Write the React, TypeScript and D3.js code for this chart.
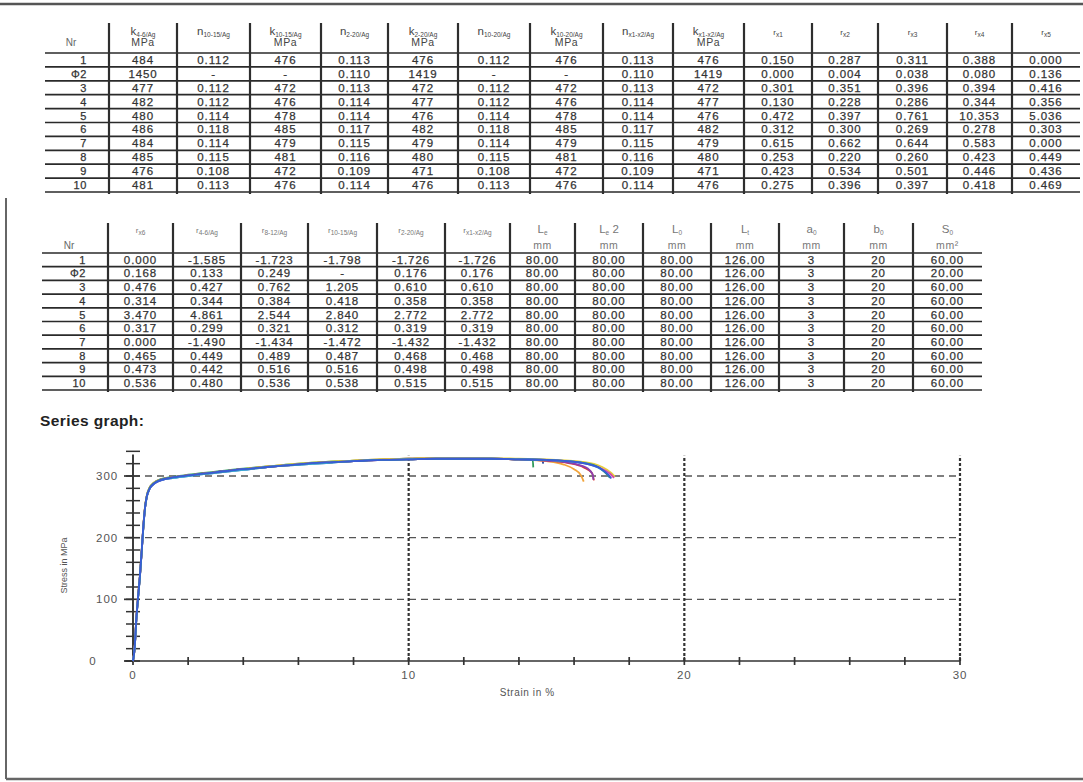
import React from 'react'
import * as d3 from 'd3'

// ---- table data ----
const nr = ['1', 'Φ2', '3', '4', '5', '6', '7', '8', '9', '10']

const k46 = ['484', '1450', '477', '482', '480', '486', '484', '485', '476', '481']
const n1015 = ['0.112', '-', '0.112', '0.112', '0.114', '0.118', '0.114', '0.115', '0.108', '0.113']
const k1015 = ['476', '-', '472', '476', '478', '485', '479', '481', '472', '476']
const n220 = ['0.113', '0.110', '0.113', '0.114', '0.114', '0.117', '0.115', '0.116', '0.109', '0.114']
const k220 = ['476', '1419', '472', '477', '476', '482', '479', '480', '471', '476']
const n1020 = ['0.112', '-', '0.112', '0.112', '0.114', '0.118', '0.114', '0.115', '0.108', '0.113']
const k1020 = ['476', '-', '472', '476', '478', '485', '479', '481', '472', '476']
const nx1x2 = ['0.113', '0.110', '0.113', '0.114', '0.114', '0.117', '0.115', '0.116', '0.109', '0.114']
const kx1x2 = ['476', '1419', '472', '477', '476', '482', '479', '480', '471', '476']
const rx1 = ['0.150', '0.000', '0.301', '0.130', '0.472', '0.312', '0.615', '0.253', '0.423', '0.275']
const rx2 = ['0.287', '0.004', '0.351', '0.228', '0.397', '0.300', '0.662', '0.220', '0.534', '0.396']
const rx3 = ['0.311', '0.038', '0.396', '0.286', '0.761', '0.269', '0.644', '0.260', '0.501', '0.397']
const rx4 = ['0.388', '0.080', '0.394', '0.344', '10.353', '0.278', '0.583', '0.423', '0.446', '0.418']
const rx5 = ['0.000', '0.136', '0.416', '0.356', '5.036', '0.303', '0.000', '0.449', '0.436', '0.469']

const rx6 = ['0.000', '0.168', '0.476', '0.314', '3.470', '0.317', '0.000', '0.465', '0.473', '0.536']
const r46 = ['-1.585', '0.133', '0.427', '0.344', '4.861', '0.299', '-1.490', '0.449', '0.442', '0.480']
const r812 = ['-1.723', '0.249', '0.762', '0.384', '2.544', '0.321', '-1.434', '0.489', '0.516', '0.536']
const r1015 = ['-1.798', '-', '1.205', '0.418', '2.840', '0.312', '-1.472', '0.487', '0.516', '0.538']
const r220 = ['-1.726', '0.176', '0.610', '0.358', '2.772', '0.319', '-1.432', '0.468', '0.498', '0.515']
const rx1x2 = ['-1.726', '0.176', '0.610', '0.358', '2.772', '0.319', '-1.432', '0.468', '0.498', '0.515']
const le = ['80.00', '80.00', '80.00', '80.00', '80.00', '80.00', '80.00', '80.00', '80.00', '80.00']
const le2 = ['80.00', '80.00', '80.00', '80.00', '80.00', '80.00', '80.00', '80.00', '80.00', '80.00']
const l0 = ['80.00', '80.00', '80.00', '80.00', '80.00', '80.00', '80.00', '80.00', '80.00', '80.00']
const lt = ['126.00', '126.00', '126.00', '126.00', '126.00', '126.00', '126.00', '126.00', '126.00', '126.00']
const a0 = ['3', '3', '3', '3', '3', '3', '3', '3', '3', '3']
const b0 = ['20', '20', '20', '20', '20', '20', '20', '20', '20', '20']
const s0 = ['60.00', '20.00', '60.00', '60.00', '60.00', '60.00', '60.00', '60.00', '60.00', '60.00']

// header: [symbol, subscript, unit, suffix]
const headers1 = [
  ['k', '4-6/Ag', 'MPa', ''], ['n', '10-15/Ag', '', ''], ['k', '10-15/Ag', 'MPa', ''],
  ['n', '2-20/Ag', '', ''], ['k', '2-20/Ag', 'MPa', ''], ['n', '10-20/Ag', '', ''],
  ['k', '10-20/Ag', 'MPa', ''], ['n', 'x1-x2/Ag', '', ''], ['k', 'x1-x2/Ag', 'MPa', ''],
  ['r', 'x1', '', ''], ['r', 'x2', '', ''], ['r', 'x3', '', ''], ['r', 'x4', '', ''], ['r', 'x5', '', ''],
]
const headers2 = [
  ['r', 'x6', '', ''], ['r', '4-6/Ag', '', ''], ['r', '8-12/Ag', '', ''], ['r', '10-15/Ag', '', ''],
  ['r', '2-20/Ag', '', ''], ['r', 'x1-x2/Ag', '', ''], ['L', 'e', 'mm', ''], ['L', 'e', 'mm', ' 2'],
  ['L', '0', 'mm', ''], ['L', 't', 'mm', ''], ['a', '0', 'mm', ''], ['b', '0', 'mm', ''], ['S', '0', 'mm²', ''],
]
const columns1 = [k46, n1015, k1015, n220, k220, n1020, k1020, nx1x2, kx1x2, rx1, rx2, rx3, rx4, rx5]
const columns2 = [rx6, r46, r812, r1015, r220, rx1x2, le, le2, l0, lt, a0, b0, s0]

// ---- stress-strain curves: [strain %, stress MPa] ----
const curveGreen = [[0, 0], [0.06, 21], [0.12, 66], [0.18, 101], [0.25, 137], [0.32, 181], [0.38, 221], [0.44, 251], [0.5, 268], [0.6, 281], [0.75, 289], [1, 295], [1.5, 299], [2, 302], [3, 307], [4, 312], [5, 316], [6, 320], [7, 323], [8, 325], [9, 327], [10, 328], [11, 329], [12, 329], [13, 328], [14, 327], [14.5, 326], [14.52, 314]]
const curveNavy = [[0, 0], [0.06, 20], [0.12, 67], [0.18, 100], [0.25, 136], [0.32, 180], [0.38, 219], [0.44, 249], [0.5, 266], [0.6, 279], [0.75, 287], [1, 293], [1.5, 297], [2, 300], [3, 305], [4, 310], [5, 315], [6, 318], [7, 321], [8, 324], [9, 326], [10, 327], [11, 328], [12, 328], [13, 328], [14, 327], [14.85, 326], [14.88, 320]]
const curveOrange = [[0, 0], [0.06, 22], [0.12, 69], [0.18, 103], [0.25, 138], [0.32, 182], [0.38, 222], [0.44, 251], [0.5, 267], [0.6, 280], [0.75, 288], [1, 294], [1.5, 298], [2, 301], [3, 306], [4, 311], [5, 316], [6, 319], [7, 322], [8, 325], [9, 327], [10, 328], [11, 329], [12, 329], [13, 328], [14, 327], [15, 324], [15.6, 319], [16, 311], [16.25, 301], [16.35, 291]]
const curveRed = [[0, 0], [0.06, 21], [0.12, 68], [0.18, 102], [0.25, 137], [0.32, 181], [0.38, 220], [0.44, 250], [0.5, 267], [0.6, 280], [0.75, 288], [1, 294], [1.5, 298], [2, 301], [3, 306], [4, 311], [5, 315], [6, 319], [7, 322], [8, 324], [9, 326], [10, 327], [11, 328], [12, 328], [13, 328], [14, 327], [15, 325], [15.8, 321], [16.35, 314], [16.65, 305], [16.72, 293]]
const curvePurple = [[0, 0], [0.06, 20], [0.12, 66], [0.18, 101], [0.25, 136], [0.32, 180], [0.38, 220], [0.44, 249], [0.5, 266], [0.6, 279], [0.75, 287], [1, 293], [1.5, 298], [2, 301], [3, 306], [4, 311], [5, 315], [6, 319], [7, 322], [8, 324], [9, 326], [10, 328], [11, 328], [12, 329], [13, 328], [14, 327], [15, 325], [16, 320], [16.5, 312], [16.68, 302], [16.7, 294]]
const curveYellow = [[0, 0], [0.06, 22], [0.12, 69], [0.18, 103], [0.25, 138], [0.32, 182], [0.38, 222], [0.44, 251], [0.5, 268], [0.6, 281], [0.75, 289], [1, 294], [1.5, 298], [2, 301], [3, 306], [4, 311], [5, 316], [6, 320], [7, 323], [8, 325], [9, 327], [10, 328], [11, 329], [12, 329], [13, 329], [14, 328], [15, 327], [16.3, 323], [17, 315], [17.35, 305], [17.48, 299]]
const curveMagenta = [[0, 0], [0.06, 21], [0.12, 67], [0.18, 102], [0.25, 137], [0.32, 181], [0.38, 221], [0.44, 250], [0.5, 267], [0.6, 280], [0.75, 288], [1, 294], [1.5, 298], [2, 301], [3, 306], [4, 311], [5, 315], [6, 319], [7, 322], [8, 324], [9, 326], [10, 327], [11, 328], [12, 328], [13, 328], [14, 327], [15, 326], [16.2, 322], [16.9, 314], [17.3, 304], [17.45, 297]]
const curveCyan = [[0, 0], [0.06, 20], [0.12, 66], [0.18, 100], [0.25, 136], [0.32, 180], [0.38, 219], [0.44, 249], [0.5, 266], [0.6, 279], [0.75, 287], [1, 293], [1.5, 297], [2, 300], [3, 305], [4, 310], [5, 315], [6, 318], [7, 321], [8, 324], [9, 326], [10, 327], [11, 328], [12, 328], [13, 328], [14, 327], [15, 326], [16.2, 322], [16.9, 313], [17.2, 303], [17.3, 298]]
const curveTeal = [[0, 0], [0.06, 21], [0.12, 67], [0.18, 101], [0.25, 137], [0.32, 181], [0.38, 220], [0.44, 250], [0.5, 267], [0.6, 280], [0.75, 288], [1, 294], [1.5, 298], [2, 301], [3, 306], [4, 311], [5, 315], [6, 319], [7, 322], [8, 324], [9, 326], [10, 327], [11, 328], [12, 328], [13, 328], [14, 327], [15, 326], [16.5, 320], [17.05, 309], [17.25, 300], [17.3, 297]]
const curveBlue = [[0, 0], [0.06, 22], [0.12, 68], [0.18, 102], [0.25, 138], [0.32, 182], [0.38, 222], [0.44, 250], [0.5, 267], [0.6, 279], [0.75, 287], [1, 293], [1.5, 298], [2, 301], [3, 306], [4, 311], [5, 315], [6, 319], [7, 322], [8, 324], [9, 326], [10, 327], [11, 328], [12, 328], [13, 328], [14, 327], [15, 326], [16, 323], [16.6, 318], [17, 311], [17.25, 302], [17.35, 296]]

const series = [
  { name: '8', color: '#2f9a5a', data: curveGreen },
  { name: '4', color: '#23409a', data: curveNavy },
  { name: '3', color: '#f2a43a', data: curveOrange },
  { name: '5', color: '#d83a3a', data: curveRed },
  { name: '6', color: '#8a3fb0', data: curvePurple },
  { name: '7', color: '#e6cf3a', data: curveYellow },
  { name: '9', color: '#d64aa8', data: curveMagenta },
  { name: '10', color: '#3cc0e8', data: curveCyan },
  { name: 'Φ2', color: '#2a8c8c', data: curveTeal },
  { name: '1', color: '#3b5bd6', data: curveBlue },
]

const xTicksMajor = [0, 10, 20, 30]
const yTicksMajor = [0, 100, 200, 300]

const FONT = 'Liberation Sans, Arial, sans-serif'
const INK = '#333'

const Table = ({ headers, columns, edges, headTop, headBottom, bottom, line1, line2, headColor, left }) => {
  const rows = d3.scaleBand().domain(nr).range([headBottom, bottom])
  const cols = d3.scaleOrdinal().domain(d3.range(edges.length)).range(edges)
  const right = edges[edges.length - 1]
  return (
    <g fontFamily={FONT} fill={INK}>
      {nr.map(n => (
        <line key={'h' + n} x1={left} x2={right} y1={rows(n) + rows.bandwidth()} y2={rows(n) + rows.bandwidth()} stroke="#2a2a2a" strokeWidth={1.7} />
      ))}
      <line x1={left} x2={right} y1={headBottom} y2={headBottom} stroke="#2a2a2a" strokeWidth={1.7} />
      {edges.slice(1, -1).map((e, i) => (
        <line key={'v' + i} x1={e} x2={e} y1={headTop} y2={bottom + 2} stroke="#2e2e2e" strokeWidth={2.2} />
      ))}
      <text x={(left + edges[1]) / 2 - 6} y={line2} fontSize={10} textAnchor="middle" fill="#666">Nr</text>
      {headers.map((h, i) => {
        const cx = (cols(i + 1) + cols(i + 2)) / 2
        return (
          <g key={'hd' + i} fill={headColor}>
            <text x={cx} y={line1} textAnchor="middle">
              <tspan fontSize={h[0] === 'r' ? 8 : 11.5}>{h[0]}</tspan>
              <tspan fontSize={6.5} dy={1.5}>{h[1]}</tspan>
              {h[3] ? <tspan fontSize={11.5} dy={-1.5}>{h[3]}</tspan> : null}
            </text>
            {h[2] ? <text x={cx} y={line2} textAnchor="middle" fontSize={10.5} letterSpacing={0.6}>{h[2]}</text> : null}
          </g>
        )
      })}
      {nr.map(n => (
        <text key={'n' + n} x={edges[1] - 22} y={rows(n) + rows.bandwidth() - 3} fontSize={11} textAnchor="end"
          letterSpacing={0.6} stroke={INK} strokeWidth={0.25}>{n}</text>
      ))}
      {columns.map((col, ci) => col.map((v, ri) => (
        <text key={ci + '-' + ri} x={(cols(ci + 1) + cols(ci + 2)) / 2} y={rows(nr[ri]) + rows.bandwidth() - 3}
          fontSize={11.5} textAnchor="middle" letterSpacing={0.9} stroke={INK} strokeWidth={0.25}>{v}</text>
      )))}
    </g>
  )
}

const StressChart = () => {
  const x = d3.scaleLinear().domain([0, 30]).range([133, 960])
  const y = d3.scaleLinear().domain([0, 300]).range([661, 476])
  const path = d3.line().x(d => x(d[0])).y(d => y(d[1])).curve(d3.curveMonotoneX)
  const yMinor = d3.range(0, 341, 20)
  const xMinor = d3.range(0, 31, 2)
  return (
    <g fontFamily={FONT}>
      {yTicksMajor.filter(v => v > 0).map(v => (
        <line key={'gy' + v} x1={x(0)} x2={x(30)} y1={y(v)} y2={y(v)} stroke="#555" strokeWidth={1.4} strokeDasharray="7,5" />
      ))}
      {xTicksMajor.filter(v => v > 0).map(v => (
        <line key={'gx' + v} x1={x(v)} x2={x(v)} y1={y(0)} y2={y(333)} stroke="#333" strokeWidth={2.2} strokeDasharray="3,2" />
      ))}
      <line x1={x(-0.3)} x2={x(30)} y1={y(0)} y2={y(0)} stroke="#333" strokeWidth={1.7} />
      <line x1={x(0)} x2={x(0)} y1={y(-2)} y2={y(335)} stroke="#333" strokeWidth={1.9} />
      {yMinor.map(v => (
        <line key={'ym' + v} x1={x(0) - 7} x2={x(0) + 7} y1={y(v)} y2={y(v)} stroke="#333" strokeWidth={1.5} />
      ))}
      {yTicksMajor.map(v => (
        <line key={'yM' + v} x1={x(0) - 9} x2={x(0)} y1={y(v)} y2={y(v)} stroke="#333" strokeWidth={1.7} />
      ))}
      {xMinor.map(v => (
        <line key={'xm' + v} x1={x(v)} x2={x(v)} y1={y(0) - 4} y2={y(0) + 4} stroke="#333" strokeWidth={1.7} />
      ))}
      {xTicksMajor.map(v => (
        <text key={'xl' + v} x={x(v)} y={y(0) + 18} fontSize={11.5} fill="#555" textAnchor="middle" letterSpacing={0.9}>{v}</text>
      ))}
      {yTicksMajor.map(v => (
        <text key={'yl' + v} x={v === 0 ? x(0) - 40 : x(0) - 15} y={y(v) + 4} fontSize={11.5} fill="#555"
          textAnchor={v === 0 ? 'middle' : 'end'} letterSpacing={0.9}>{v}</text>
      ))}
      <text x={x(14.3)} y={696} fontSize={10} fill="#555" textAnchor="middle" letterSpacing={0.6}>Strain in %</text>
      <text transform={`translate(67,${y(155)}) rotate(-90)`} fontSize={9} fill="#555" textAnchor="middle">Stress in MPa</text>
      {series.map(s => (
        <path key={s.name} d={path(s.data)} fill="none" stroke={s.color} strokeWidth={1.8} strokeLinejoin="round" />
      ))}
    </g>
  )
}

export default function App() {
  return (
    <div style={{ position: 'absolute', left: 0, top: 0 }}>
      <svg width={1083} height={782} style={{ display: 'block', background: '#fff' }}>
        <line x1={0} x2={1083} y1={4} y2={4} stroke="#555" strokeWidth={2.5} />
        <line x1={6} x2={6} y1={198} y2={779} stroke="#666" strokeWidth={2} />
        <line x1={6} x2={1083} y1={779} y2={779} stroke="#666" strokeWidth={2.5} />
        <Table headers={headers1} columns={columns1}
          edges={[45, 109, 177, 250, 321, 388, 458, 530, 603, 673, 744, 812, 878, 947, 1012, 1080]}
          left={45} headTop={23} headBottom={53} bottom={192} line1={35} line2={46} headColor="#444" />
        <Table headers={headers2} columns={columns2}
          edges={[42, 108, 173, 241, 308, 377, 445, 510, 575, 643, 711, 779, 844, 913, 982]}
          left={42} headTop={223} headBottom={253} bottom={390} line1={233} line2={249} headColor="#777" />
        <text x={40} y={426} fontFamily={FONT} fontWeight="bold" fontSize={15.5} fill="#222" letterSpacing={0.4}>Series graph:</text>
        <StressChart />
      </svg>
    </div>
  )
}
